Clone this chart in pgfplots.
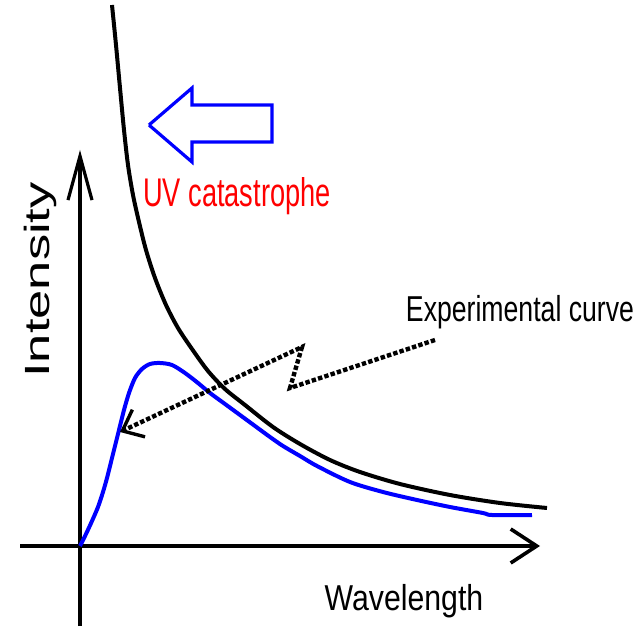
\documentclass[border=0pt]{standalone}
\usepackage{pgfplots}
\pgfplotsset{compat=1.18}
\usepackage{fontspec}
\setmainfont{Liberation Sans}
\usepackage{graphicx}
\usetikzlibrary{arrows.meta}
\begin{document}
\begin{tikzpicture}
\begin{axis}[
  width=322pt, height=314pt, scale only axis,
  xmin=0, xmax=644, ymin=0, ymax=628,
  hide axis, clip=false,
]
% bounding rectangle (invisible)
\addplot[draw=none] coordinates {(0,0) (644,628)};
% axes
\addplot[line width=2pt, -{Straight Barb[length=13pt,width=17pt,line width=1.8pt]}] coordinates {(20,82) (540,82)};
\addplot[line width=1.6pt, -{Straight Barb[length=22pt,width=12pt,line width=1.6pt]}] coordinates {(80,2) (80,478)};
% Rayleigh-Jeans (classical) curve
\addplot[black, line width=2pt, smooth, tension=0.5] coordinates {
(112,623) (116,583) (120,540) (124,498) (128,463) (133,433) (139,406)
(146,378) (155,350) (166,323) (178,300) (192,279) (208,257) (225,239)
(245,223) (273,201) (300,184) (330,168) (360,156) (400,144) (450,133)
(500,125) (547,120)};
% experimental curve
\addplot[blue, line width=2pt, smooth, tension=0.5] coordinates {
(80,82) (86,94) (92,107) (98,121) (103,136) (107,150) (111,166) (115,182)
(119,198) (124,218) (129,235) (135,250) (142,259) (150,264) (160,265)
(172,263) (185,255) (198,245) (210,235) (225,224) (240,213) (255,202)
(270,191) (283,182) (300,172) (317,162) (350,146) (383,136) (417,128)
(450,121) (483,115) (492,113) (532,113)};
% UV arrow
\addplot[blue, line width=1.6pt, fill=white] coordinates {
(149,503) (192,540) (192,523) (272,523) (272,486) (192,486) (192,466) (149,503)};
% dashed zigzag arrow
\addplot[black, line width=2.2pt, dash pattern=on 2.2pt off 1.1pt,
  -{Straight Barb[length=9pt,width=15pt,line width=1.7pt]}] coordinates {
(435,288) (290,240) (302,281) (120,196)};
% labels
\node[red] at (axis cs:237,432) {\scalebox{0.68}[1]{\fontsize{20}{24}\selectfont UV catastrophe}};
\node at (axis cs:520,316) {\scalebox{0.74}[1]{\fontsize{18}{21}\selectfont Experimental curve}};
\node[rotate=90] at (axis cs:40,348) {\scalebox{1.5}[1]{\fontsize{17.5}{21}\selectfont Intensity}};
\node at (axis cs:404,27) {\scalebox{0.84}[1]{\fontsize{18}{21}\selectfont Wavelength}};
\end{axis}
\end{tikzpicture}
\end{document}
